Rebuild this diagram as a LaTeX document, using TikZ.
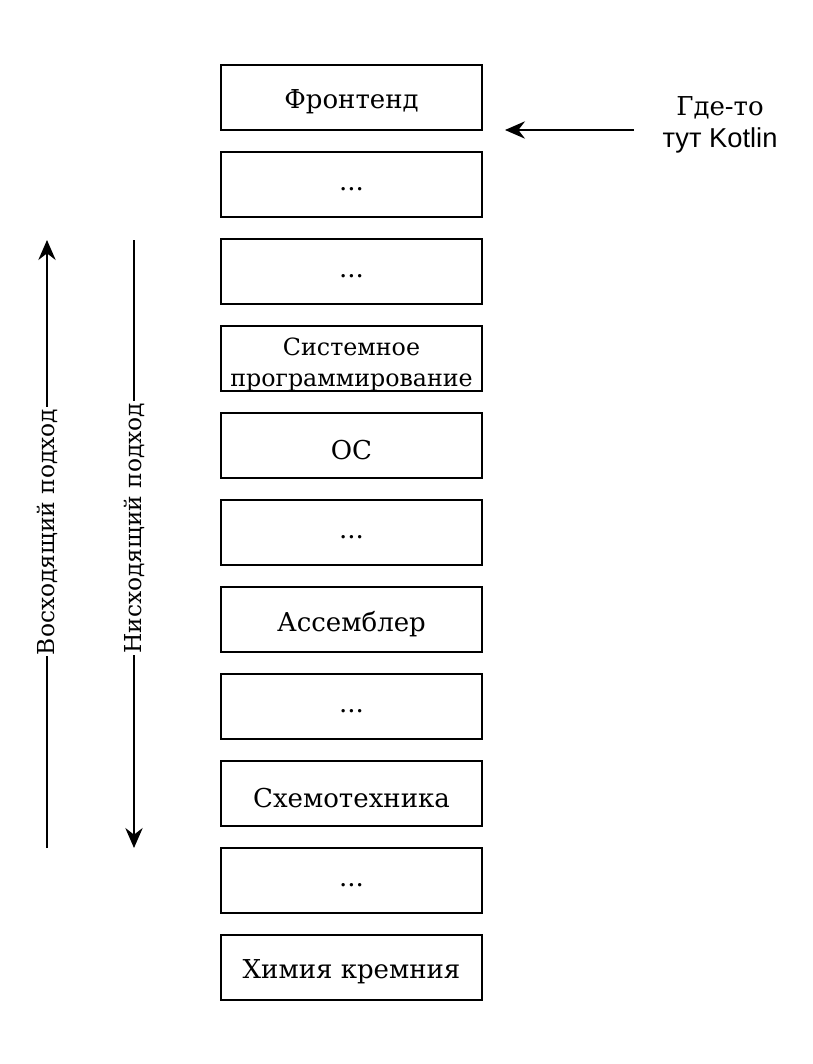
\documentclass[tikz,border=0pt]{standalone}
\usepackage{fontspec}
\setmainfont{DejaVu Serif}
\newfontfamily\kotlinfont{Liberation Sans}
\usetikzlibrary{arrows.meta}
\begin{document}
\begin{tikzpicture}[
  x=0.75pt, y=-0.75pt,
  layer/.style={draw, line width=1.5pt, minimum width=195.75pt, minimum height=48.75pt, inner sep=0pt},
  caption/.style={align=center, inner sep=0pt, yshift=-3.5pt, font=\fontsize{19.5}{24}\selectfont},
  arrow/.style={-{Stealth[length=15pt, width=13pt, inset=5pt]}, line width=1.5pt},
  tag/.style={fill=white, rotate=90, inner sep=1pt, font=\fontsize{17.5}{20}\selectfont}
]
\useasboundingbox (0,0) rectangle (813,1064);
\node[layer, label={[caption]center:Фронтенд}] (frontend) at (351.5,97.5) {};
\node[layer, label={[caption]center:...}] (dots1) at (351.5,184.5) {};
\node[layer, label={[caption]center:...}] (dots2) at (351.5,271.5) {};
\node[layer, label={[caption, yshift=-1pt, font=\fontsize{17.8}{23.5}\selectfont]center:Системное\\программирование}] (sysprog) at (351.5,358.5) {};
\node[layer, label={[caption]center:ОС}] (os) at (351.5,445.5) {};
\node[layer, label={[caption]center:...}] (dots3) at (351.5,532.5) {};
\node[layer, label={[caption]center:Ассемблер}] (asm) at (351.5,619.5) {};
\node[layer, label={[caption]center:...}] (dots4) at (351.5,706.5) {};
\node[layer, label={[caption]center:Схемотехника}] (circuit) at (351.5,793.5) {};
\node[layer, label={[caption]center:...}] (dots5) at (351.5,880.5) {};
\node[layer, label={[caption]center:Химия кремния}] (silicon) at (351.5,967.5) {};

% bottom-up and top-down
\coordinate (up start) at (47,848);
\coordinate (up end) at (47,240);
\coordinate (down start) at (134,240);
\coordinate (down end) at (134,848);
\draw[arrow] (up start) -- node[tag, pos=0.52] (up label) {Восходящий подход} (up end);
\draw[arrow] (down start) -- node[tag, pos=0.474] (down label) {Нисходящий подход} (down end);

% kotlin note
\node[align=center, inner sep=0pt, font=\fontsize{19.5}{24}\selectfont] (kotlin) at (720,125) {Где-то\\{\kotlinfont\fontsize{20.5}{24}\selectfont тут Kotlin}};
\coordinate (kotlin start) at (634,130);
\coordinate (kotlin tip) at (505,130);
\draw[arrow] (kotlin start) -- (kotlin tip);
\end{tikzpicture}
\end{document}
